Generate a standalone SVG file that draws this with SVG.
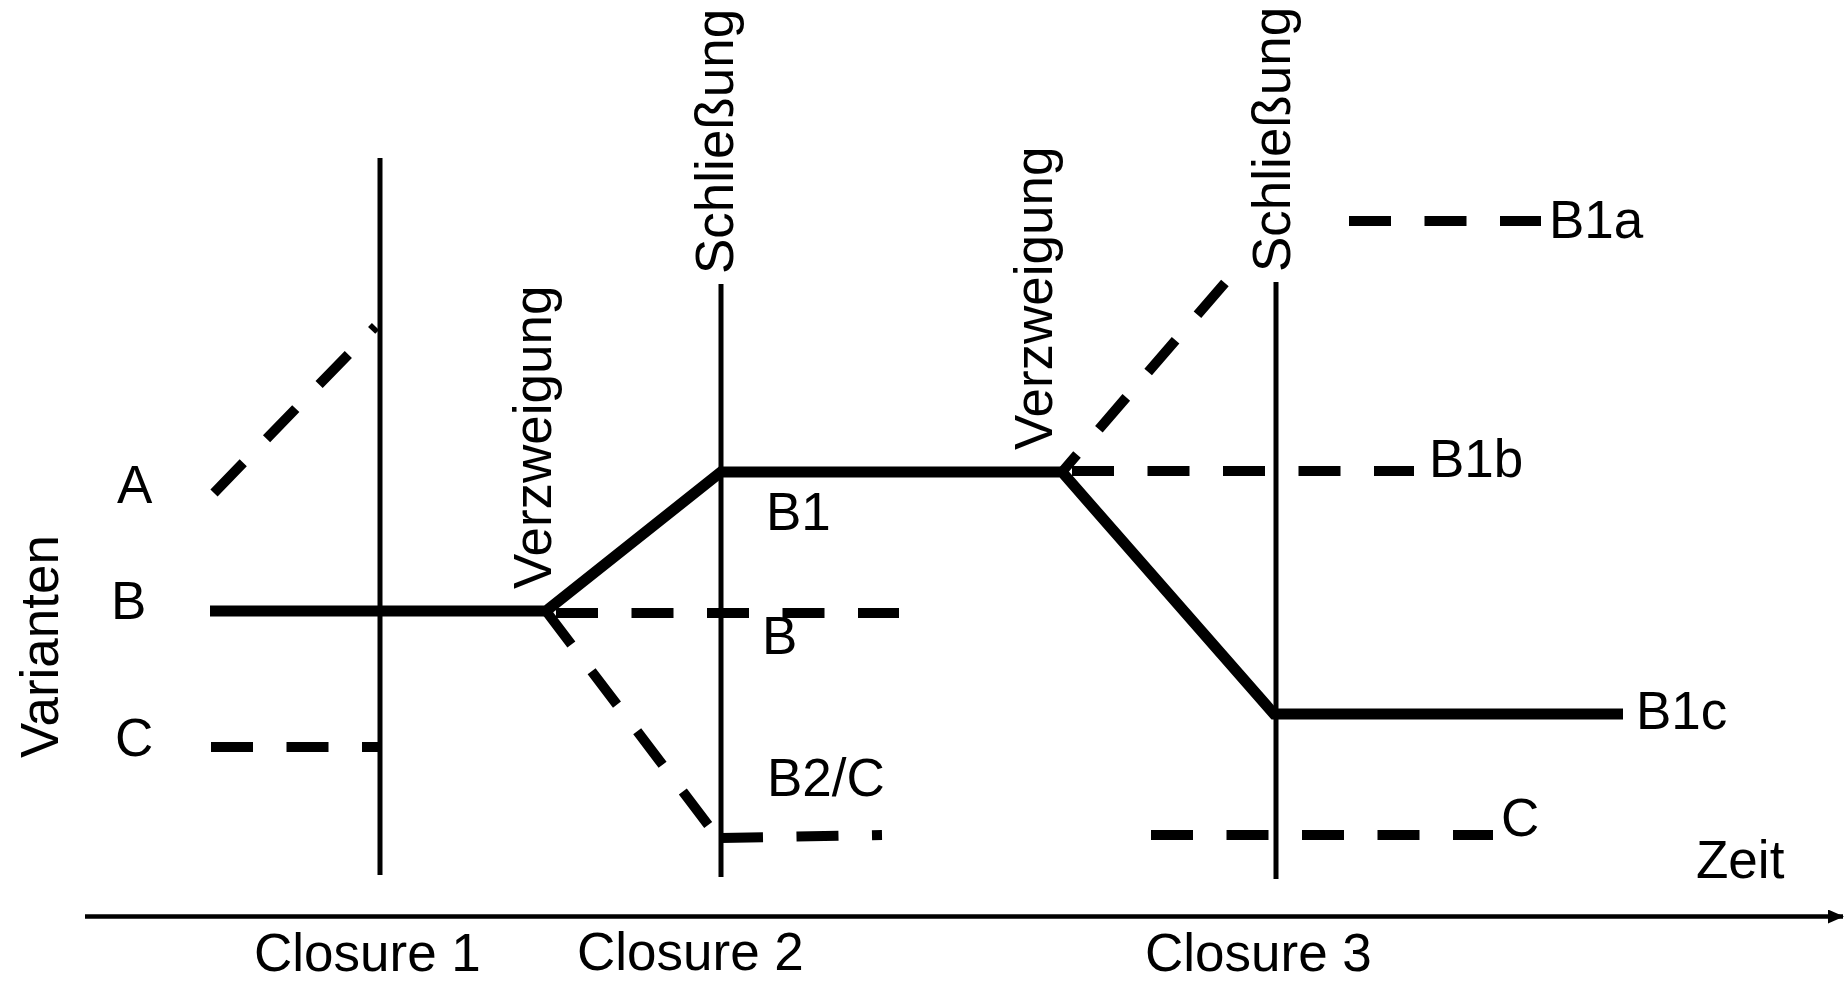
<svg xmlns="http://www.w3.org/2000/svg" width="1848" height="982" viewBox="0 0 1848 982">
  <style>
    text { font-family: "Liberation Sans", Arial, sans-serif; font-size: 53px; fill: #000; }
    .phase { stroke: #000; stroke-width: 5; fill: none; }
    .solid { stroke: #000; stroke-width: 11; fill: none; stroke-linejoin: miter; }
    .dash { stroke: #000; stroke-width: 10; fill: none; stroke-dasharray: 42 33.5; }
    .axis { stroke: #000; stroke-width: 4.5; fill: none; }
  </style>
  <defs>
    <marker id="arrow" markerUnits="userSpaceOnUse" markerWidth="18" markerHeight="16" refX="15" refY="7" orient="auto">
      <path d="M0,0 L16,7 L0,14 Z" fill="#000"/>
    </marker>
  </defs>

  <rect width="1848" height="982" fill="#fff"/>

  <!-- time axis -->
  <g id="time-axis">
    <path class="axis" d="M85 916.5 L1843 916.5" marker-end="url(#arrow)"/>
    <text x="1696" y="878">Zeit</text>
    <text transform="translate(58,758) rotate(-90)">Varianten</text>
  </g>

  <!-- closure boundaries -->
  <g id="closure-1">
    <line class="phase" x1="380" y1="158" x2="380" y2="875"/>
    <text x="254" y="971">Closure 1</text>
  </g>
  <g id="closure-2">
    <line class="phase" x1="721" y1="284" x2="721" y2="877"/>
    <text transform="translate(733,274) rotate(-90)">Schließung</text>
    <text x="577" y="970">Closure 2</text>
  </g>
  <g id="closure-3">
    <line class="phase" x1="1276" y1="282" x2="1276" y2="879"/>
    <text transform="translate(1290,272) rotate(-90)">Schließung</text>
    <text x="1145" y="971">Closure 3</text>
  </g>

  <!-- branching points -->
  <g id="branch-1">
    <text transform="translate(551,589) rotate(-90)">Verzweigung</text>
  </g>
  <g id="branch-2">
    <text transform="translate(1052,450) rotate(-90)">Verzweigung</text>
  </g>

  <!-- variant labels -->
  <g id="variant-A"><text x="117" y="503">A</text></g>
  <g id="variant-B"><text x="111" y="619">B</text></g>
  <g id="variant-C"><text x="115" y="756">C</text></g>
  <g id="variant-B1"><text x="766" y="530">B1</text></g>
  <g id="variant-B-kept"><text x="762" y="654">B</text></g>
  <g id="variant-B2C"><text x="767" y="796">B2/C</text></g>
  <g id="variant-B1a"><text x="1549" y="238">B1a</text></g>
  <g id="variant-B1b"><text x="1429" y="477">B1b</text></g>
  <g id="variant-B1c"><text x="1636" y="729">B1c</text></g>
  <g id="variant-C-late"><text x="1501" y="836">C</text></g>

  <!-- variant paths over time -->
  <g id="connectors">
    <path class="solid" d="M210 611 L546 611 L721 472 L1062 472 L1274 714 L1623 714"/>
    <path class="dash" d="M214 493 L375.5 326.4"/>
    <path class="dash" d="M211 747 L380 747"/>
    <path class="dash" d="M556 613 L899 613"/>
    <path class="dash" d="M546 611 L712 830"/>
    <path class="dash" d="M721 838 L882 835"/>
    <path class="dash" d="M1062 472 L1226 281.7" stroke-dashoffset="19"/>
    <path class="dash" d="M1349 221 L1541 221"/>
    <path class="dash" d="M1072 471 L1414 471"/>
    <path class="dash" d="M1151 835 L1493 835"/>
  </g>
</svg>
